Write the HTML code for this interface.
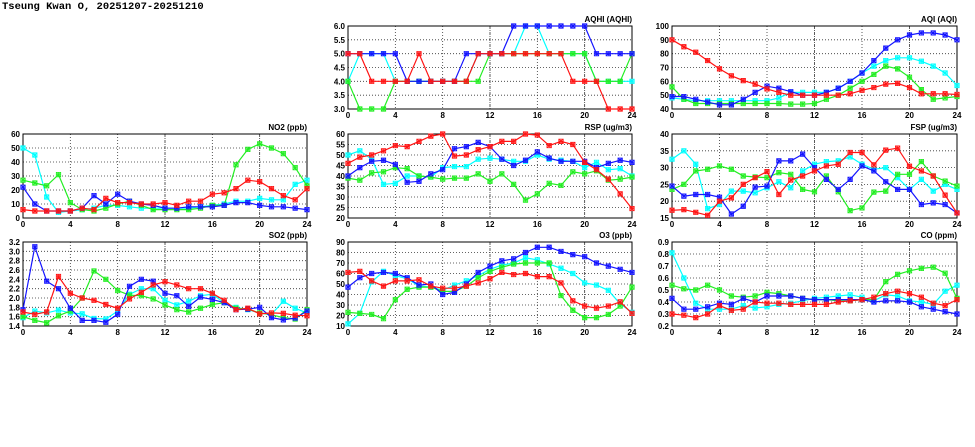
<!DOCTYPE html>
<html><head><meta charset="utf-8">
<style>
html,body{margin:0;padding:0;background:#fff;}
body{width:975px;height:447px;overflow:hidden;position:relative;}
#title{position:absolute;left:2px;top:1px;font:bold 10.5px "Liberation Mono",monospace;color:#000;}
svg{position:absolute;left:0;top:0;}
text{font-family:"Liberation Sans",sans-serif;font-weight:bold;font-size:8px;fill:#000;}
</style></head>
<body>
<div id="title">Tseung Kwan O, 20251207-20251210</div>
<svg id="chart" width="975" height="447"></svg>
<script>
const hours = [0,1,2,3,4,5,6,7,8,9,10,11,12,13,14,15,16,17,18,19,20,21,22,23,24];
const xTicks = [0,4,8,12,16,20,24];
const seriesColors = ["#00ffff","#22ee22","#1414ff","#ff1414"];

const no2Cyan  = [50,45,15,4,5,6,7,9,9,8,7,7,7,7,7,8,9,10,12,12,14,13,13,24,27];
const no2Green = [27,25,23,31,11,6,5,7,10,12,9,6,6,6,6,7,9,9,38,49,53,50,46,36,23];
const no2Blue  = [22,10,5,5,5,7,16,10,17,12,10,9,7,7,8,8,8,9,11,11,9,8,8,7,6];
const no2Red   = [6,5,5,5,5,7,6,14,11,11,10,10,11,9,12,12,17,18,21,27,26,21,16,13,21];

const so2Cyan  = [1.58,1.72,1.68,1.74,1.68,1.66,1.56,1.55,1.72,2.08,2.2,2.2,1.95,1.85,1.93,2.05,2.08,1.9,1.8,1.75,1.68,1.65,1.93,1.78,1.68];
const so2Green = [1.6,1.52,1.47,1.62,1.72,2.0,2.58,2.4,2.16,2.06,2.05,1.98,1.85,1.75,1.7,1.78,1.86,1.9,1.78,1.76,1.68,1.64,1.58,1.55,1.75];
const so2Blue  = [1.75,3.1,2.36,2.2,1.78,1.52,1.52,1.48,1.65,2.25,2.4,2.36,2.1,2.05,1.82,2.02,1.97,1.9,1.75,1.76,1.8,1.58,1.53,1.57,1.72];
const so2Red   = [1.7,1.65,1.7,2.46,2.1,2.0,1.95,1.86,1.78,1.98,2.12,2.28,2.35,2.28,2.2,2.2,2.1,1.95,1.75,1.78,1.66,1.68,1.67,1.63,1.62];

const aqhiCyan  = [4,5,5,5,4,4,4,4,4,4,4,5,5,5,5,6,6,5,5,5,5,4,4,4,4];
const aqhiGreen = [4,3,3,3,4,4,4,4,4,4,4,4,5,5,5,5,5,5,5,5,5,4,4,4,5];
const aqhiBlue  = [5,5,5,5,5,4,4,4,4,4,5,5,5,5,6,6,6,6,6,6,6,5,5,5,5];
const aqhiRed   = [5,5,4,4,4,4,5,4,4,4,4,5,5,5,5,5,5,5,5,4,4,4,3,3,3];

const rspCyan  = [50,52,48,36,36.5,40,40,39.5,44,44.5,44.5,48,48.5,48,47,47,50,48,47.5,47,44,46.5,43,43.5,40];
const rspGreen = [39,38,41.5,42,44,43.5,40,39.5,38.5,39,39,41,37.5,41,36,28.5,31.5,36.5,35.5,42,41,42.5,38,38.5,39.5];
const rspBlue  = [40,44,47,47.5,45.5,37,37.5,41,43,53,54,56,54,48,45,47.5,51.5,48.5,47,47,47,44,46,47.5,46.5];
const rspRed   = [46,49,50,52,54.5,54,56.5,59,60,49.5,50,52.5,54,56.5,56.5,60,59.5,54.5,56.5,55,46.5,43,38.5,31.5,24.5];

const o3Cyan  = [12,22,52,62,58,55,48,47,44,49,53,58,64,68,70,75,73,69,65,60,51,49,44,31,23];
const o3Green = [23,22,21,17,35,45,47,47,43,43,48,56,62,66,69,70,70,70,39,25,18,18,21,29,47];
const o3Blue  = [47,56,60,61,60,56,49,50,40,42,50,61,67,72,74,80,85,85,81,78,76,70,67,64,61];
const o3Red   = [61,62,53,48,53,53,54,48,46,46,48,51,55,61,59,60,57,57,51,34,29,27,29,33,22];

const aqiCyan  = [48,47,46,46,46,46,46,46,46,48,52,52,52,52,55,60,66,71,75,77,77,74.5,71,66,57];
const aqiGreen = [56,47,44,44,44,44,44,44,44,44,43.5,43.5,44,47,50,55,60,65,71,69,63,54,47,48,49];
const aqiBlue  = [49,49,47,45,43,43,47,52,56.5,55,52.5,50,50,52,55,60,66,75,84,90,93.5,95,95,93.5,90];
const aqiRed   = [90,85,81,75,69,64,60.5,58,54.5,52,50,50,50,50,50,51,53.5,55.5,58,58.5,55.5,51,51,51,50.5];

const fspCyan  = [32.5,35,31,17.8,19,23,23,22.5,24,25.8,24,29,31,31.8,32,33.2,31,29.5,30,27,23.5,26.5,23,25,23.5];
const fspGreen = [23.5,25,29,29.5,30.5,29.5,27.5,27.2,27,28.5,28,23.5,22.8,27.5,22.8,17.2,18,22.7,23,28,28,31.8,27.5,26,24.5];
const fspBlue  = [24.5,21.5,22,22,21.2,16.2,18.5,24.2,24.5,32,32,34,30,26.5,23.5,26.5,30.5,29,25.8,23.5,23.5,19,19.5,19,16.5];
const fspRed   = [17.3,17.5,16.7,15.8,20,21,25,27,28.8,22,26.3,27.5,29,30.5,31,34.5,34.5,30.8,35.2,35.8,30.4,29,27.5,21.8,16.5];

const coCyan  = [0.81,0.6,0.39,0.34,0.34,0.34,0.37,0.35,0.36,0.38,0.39,0.41,0.43,0.44,0.45,0.46,0.44,0.41,0.46,0.45,0.41,0.40,0.38,0.49,0.54];
const coGreen = [0.54,0.51,0.50,0.54,0.50,0.45,0.44,0.45,0.48,0.47,0.45,0.43,0.42,0.42,0.41,0.41,0.42,0.42,0.57,0.63,0.66,0.68,0.69,0.64,0.43];
const coBlue  = [0.43,0.34,0.34,0.36,0.39,0.38,0.43,0.40,0.45,0.45,0.45,0.43,0.42,0.42,0.42,0.42,0.42,0.40,0.41,0.41,0.40,0.36,0.34,0.32,0.30];
const coRed   = [0.30,0.29,0.27,0.30,0.37,0.33,0.34,0.40,0.39,0.39,0.38,0.38,0.38,0.38,0.40,0.41,0.42,0.44,0.47,0.49,0.47,0.44,0.39,0.37,0.42];

const no2Ticks = [0,10,20,30,40,50,60];
const so2Ticks = [1.4,1.6,1.8,2.0,2.2,2.4,2.6,2.8,3.0,3.2];
const aqhiTicks = [3.0,3.5,4.0,4.5,5.0,5.5,6.0];
const rspTicks = [20,25,30,35,40,45,50,55,60];
const o3Ticks = [10,20,30,40,50,60,70,80,90];
const aqiTicks = [40,50,60,70,80,90,100];
const fspTicks = [15,20,25,30,35,40];
const coTicks = [0.2,0.3,0.4,0.5,0.6,0.7,0.8,0.9];

const NS = "http://www.w3.org/2000/svg";
const svg = document.getElementById("chart");
function mk(tag, attrs, parent){
  const e = document.createElementNS(NS, tag);
  for (const k in attrs) e.setAttribute(k, attrs[k]);
  (parent||svg).appendChild(e);
  return e;
}

function panel(key, title, x0, x1, y0, y1, ticks, dec, series){
  const g = mk("g", {});
  
  
  const ymin = ticks[0], ymax = ticks[ticks.length-1];
  const sx = v => x0 + (v - 0) / 24 * (x1 - x0);
  const sy = v => y1 - (v - ymin) / (ymax - ymin) * (y1 - y0);
  ticks.forEach(t => {
    const y = sy(t);
    if (t !== ymin && t !== ymax) {
      const l = mk("line", {x1:x0, x2:x1, y1:y, y2:y, stroke:"#333", "stroke-width":0.8, "stroke-dasharray":"1,2"}, g);
      
      
    }
    const tx = mk("text", {x:x0-3, y:y+3, "text-anchor":"end"}, g);
    
    
    tx.textContent = t.toFixed(dec);
  });
  xTicks.forEach(t => {
    const x = sx(t);
    if (t !== 0 && t !== 24) {
      const l = mk("line", {x1:x, x2:x, y1:y0, y2:y1, stroke:"#333", "stroke-width":0.8, "stroke-dasharray": t===12||t===20 ? "3,1,1,1" : "1,2"}, g);
      
      
    }
    const tx = mk("text", {x:x, y:y1+9, "text-anchor":"middle"}, g);
    
    
    tx.textContent = t;
  });
  const fr = mk("rect", {x:x0, y:y0, width:x1-x0, height:y1-y0, fill:"none", stroke:"#000", "stroke-width":1}, g);
  
  
  const tt = mk("text", {x:x1, y:y0-4, "text-anchor":"end"}, g);
  
  
  tt.textContent = title;
  series.forEach((vals, si) => {
    const col = seriesColors[si];
    const sg = mk("g", {}, g);
    
    
    const pts = vals.map((v,i) => sx(hours[i]).toFixed(1) + "," + sy(v).toFixed(1)).join(" ");
    const pl = mk("polyline", {points:pts, fill:"none", stroke:col, "stroke-width":1.2}, sg);
    
    
    vals.forEach((v,i) => {
      const cx = sx(hours[i]), cy = sy(v), r = 2.2;
      const m = mk("path", {d:`M${cx-r},${cy}H${cx+r}M${cx},${cy-r}V${cy+r}M${cx-r},${cy-r}L${cx+r},${cy+r}M${cx-r},${cy+r}L${cx+r},${cy-r}M${cx-r},${cy-r}H${cx+r}V${cy+r}H${cx-r}Z`, fill:"none", stroke:col, "stroke-width":0.8}, sg);
      
      
    });
  });
}

const L=[23,307], M=[348,632], R=[672,957];
const T1=[26,109], T2=[134,218], T3=[242,326];
panel("no2","NO2 (ppb)",L[0],L[1],T2[0],T2[1],no2Ticks,0,[no2Cyan,no2Green,no2Blue,no2Red]);
panel("so2","SO2 (ppb)",L[0],L[1],T3[0],T3[1],so2Ticks,1,[so2Cyan,so2Green,so2Blue,so2Red]);
panel("aqhi","AQHI (AQHI)",M[0],M[1],T1[0],T1[1],aqhiTicks,1,[aqhiCyan,aqhiGreen,aqhiBlue,aqhiRed]);
panel("rsp","RSP (ug/m3)",M[0],M[1],T2[0],T2[1],rspTicks,0,[rspCyan,rspGreen,rspBlue,rspRed]);
panel("o3","O3 (ppb)",M[0],M[1],T3[0],T3[1],o3Ticks,0,[o3Cyan,o3Green,o3Blue,o3Red]);
panel("aqi","AQI (AQI)",R[0],R[1],T1[0],T1[1],aqiTicks,0,[aqiCyan,aqiGreen,aqiBlue,aqiRed]);
panel("fsp","FSP (ug/m3)",R[0],R[1],T2[0],T2[1],fspTicks,0,[fspCyan,fspGreen,fspBlue,fspRed]);
panel("co","CO (ppm)",R[0],R[1],T3[0],T3[1],coTicks,1,[coCyan,coGreen,coBlue,coRed]);
</script>
</body></html>
